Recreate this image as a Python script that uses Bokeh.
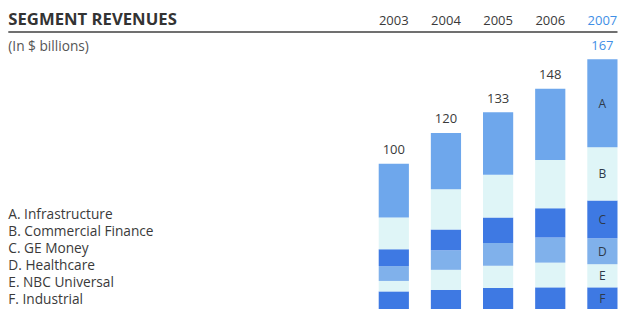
from bokeh.plotting import figure
from bokeh.models import Range1d, Label, BoxAnnotation, ColumnDataSource
from bokeh.core.properties import value
from bokeh.embed import file_html
from bokeh.resources import INLINE

# ---- data ----
years = [2003, 2004, 2005, 2006, 2007]
totals = [100, 120, 133, 148, 167]
segment_keys = ["F", "E", "D", "C", "B", "A"]  # bottom to top
segment_names = {
    "A": "A. Infrastructure",
    "B": "B. Commercial Finance",
    "C": "C. GE Money",
    "D": "D. Healthcare",
    "E": "E. NBC Universal",
    "F": "F. Industrial",
}
seg_A = [34.4, 35.9, 39.9, 45.6, 56.3]
seg_B = [20.3, 25.8, 27.4, 30.8, 34.0]
seg_C = [10.7, 13.2, 16.2, 18.8, 24.1]
seg_D = [9.5, 12.6, 14.6, 16.0, 16.6]
seg_E = [6.7, 12.8, 14.2, 15.8, 14.8]
seg_F = [18.4, 19.4, 20.6, 21.0, 21.0]
legend_order = ["A", "B", "C", "D", "E", "F"]

seg_values = {"A": seg_A, "B": seg_B, "C": seg_C, "D": seg_D, "E": seg_E, "F": seg_F}
seg_colors = {"A": "#6ea7ec", "B": "#dff5f7", "C": "#3e79e3",
              "D": "#80b1eb", "E": "#dff5f7", "F": "#3e79e3"}

W, H = 619, 309
FONT = "Open Sans"
DARK = "#3a3a3a"
BLUE = "#3f8fe6"

y0, y1 = 6.84, 204.4
p = figure(width=W, height=H, output_backend="svg", toolbar_location=None,
           x_range=Range1d(1995.458, 2007.328), y_range=Range1d(y0, y1),
           min_border=0, outline_line_color=None)
p.axis.visible = False
p.grid.visible = False
p.background_fill_color = "white"
p.border_fill_color = "white"

# stacked bars
bottoms = [0.0] * len(years)
mids_last = {}
for k in segment_keys:
    vals = seg_values[k]
    tops = [b + v for b, v in zip(bottoms, vals)]
    p.vbar(x=years, bottom=bottoms, top=tops, width=0.579,
           fill_color=seg_colors[k], line_color=None)
    lo = max(bottoms[-1], y0)
    mids_last[k] = (lo + tops[-1]) / 2
    bottoms = tops

# segment letters inside the last bar
letters = list(mids_last.keys())
src = ColumnDataSource(dict(x=[years[-1]] * len(letters), y=[mids_last[k] for k in letters], t=letters))
p.text(x="x", y="y", text="t", source=src, text_font=value(FONT), text_font_size="12px",
       text_color="#2e3a4a", text_align="center", text_baseline="middle")

# totals above bars
colors_tot = [DARK] * (len(years) - 1) + [BLUE]
src_t = ColumnDataSource(dict(x=years, y=totals, t=[str(v) for v in totals], c=colors_tot))
p.text(x="x", y="y", text="t", source=src_t, text_color="c", text_font=value(FONT),
       text_font_size="13px", text_align="center", text_baseline="middle", y_offset=-13.8)

# year labels at top
for yr, c in zip(years, colors_tot):
    p.add_layout(Label(x=yr, y=H - 19.8, y_units="screen", text=str(yr), text_font=FONT,
                       text_font_size="13px", text_color=c, text_align="center",
                       text_baseline="middle"))

# title & subtitle
p.add_layout(Label(x=7.8, y=H - 17.9, x_units="screen", y_units="screen", text="SEGMENT REVENUES",
                   text_font=FONT, text_font_size="16.7px", text_font_style="bold",
                   text_color="#333333", text_baseline="middle"))
p.add_layout(Label(x=7.8, y=H - 44.7, x_units="screen", y_units="screen", text="(In $ billions)",
                   text_font=FONT, text_font_size="13.7px", text_color="#555555",
                   text_baseline="middle"))

# rule under the header
p.add_layout(BoxAnnotation(left=7.8, right=617, top=H - 30.4, bottom=H - 32.4,
                           left_units="screen", right_units="screen",
                           top_units="screen", bottom_units="screen",
                           fill_color="#707070", fill_alpha=1.0, line_color=None))

# legend text
for i, k in enumerate(legend_order):
    p.add_layout(Label(x=7.8, y=H - (213 + 16.92 * i), x_units="screen", y_units="screen",
                       text=segment_names[k], text_font=FONT, text_font_size="13.7px",
                       text_color="#3a3a3a", text_baseline="middle"))

open("out.html", "w").write(file_html(p, INLINE))
